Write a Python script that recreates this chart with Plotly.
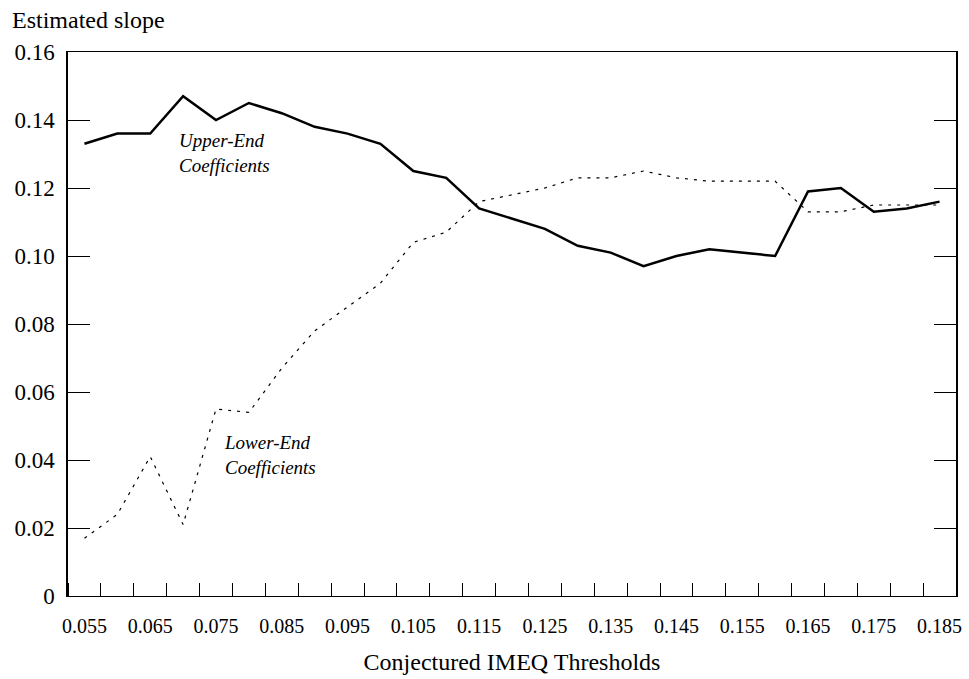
import plotly.graph_objects as go

thresholds = [0.055, 0.060, 0.065, 0.070, 0.075, 0.080, 0.085, 0.090, 0.095,
              0.100, 0.105, 0.110, 0.115, 0.120, 0.125, 0.130, 0.135, 0.140,
              0.145, 0.150, 0.155, 0.160, 0.165, 0.170, 0.175, 0.180, 0.185]

upper_end = [0.133, 0.136, 0.136, 0.147, 0.140, 0.145, 0.142, 0.138, 0.136,
             0.133, 0.125, 0.123, 0.114, 0.111, 0.108, 0.103, 0.101, 0.097,
             0.100, 0.102, 0.101, 0.100, 0.119, 0.120, 0.113, 0.114, 0.116]

lower_end = [0.017, 0.024, 0.041, 0.021, 0.055, 0.054, 0.067, 0.078, 0.085,
             0.092, 0.104, 0.107, 0.116, 0.118, 0.120, 0.123, 0.123, 0.125,
             0.123, 0.122, 0.122, 0.122, 0.113, 0.113, 0.115, 0.115, 0.115]

x_tick_vals = [0.055, 0.065, 0.075, 0.085, 0.095, 0.105, 0.115, 0.125,
               0.135, 0.145, 0.155, 0.165, 0.175, 0.185]
x_tick_text = ["0.055", "0.065", "0.075", "0.085", "0.095", "0.105", "0.115",
               "0.125", "0.135", "0.145", "0.155", "0.165", "0.175", "0.185"]
y_tick_vals = [0, 0.02, 0.04, 0.06, 0.08, 0.10, 0.12, 0.14, 0.16]
y_tick_text = ["0", "0.02", "0.04", "0.06", "0.08", "0.10", "0.12", "0.14", "0.16"]

SERIF = "Liberation Serif, Times New Roman, serif"

fig = go.Figure()
fig.add_trace(go.Scatter(x=thresholds, y=lower_end, mode="lines",
                         line=dict(color="black", width=1.2, dash="3px,6px"),
                         name="Lower-End Coefficients", showlegend=False))
fig.add_trace(go.Scatter(x=thresholds, y=upper_end, mode="lines",
                         line=dict(color="black", width=2.5),
                         name="Upper-End Coefficients", showlegend=False))

fig.update_layout(
    width=969, height=679,
    margin=dict(l=68, r=7, t=52, b=83),
    paper_bgcolor="white", plot_bgcolor="white",
    font=dict(family=SERIF, color="black"),
    xaxis=dict(
        range=[0.0525, 0.1875], showgrid=False, zeroline=False,
        showline=True, linecolor="black", linewidth=1, mirror=True,
        tickmode="array", tickvals=x_tick_vals, ticktext=x_tick_text,
        ticks="", tickfont=dict(family=SERIF, size=20, color="black"),
        ticklabelstandoff=12,
        minor=dict(tick0=0.0575, dtick=0.005, ticks="inside", ticklen=13,
                   tickwidth=1.3, tickcolor="black", showgrid=False),
        title=dict(text="Conjectured IMEQ Thresholds",
                   font=dict(family=SERIF, size=24, color="black"), standoff=17),
    ),
    yaxis=dict(
        range=[0, 0.16], showgrid=False, zeroline=False,
        showline=True, linecolor="black", linewidth=1.5, mirror="ticks",
        tickmode="array", tickvals=y_tick_vals, ticktext=y_tick_text,
        ticks="inside", ticklen=22, tickwidth=1.3, tickcolor="black",
        tickfont=dict(family=SERIF, size=23, color="black"),
        ticklabelstandoff=7,
    ),
    annotations=[
        dict(text="Estimated slope", xref="paper", yref="paper",
             x=-0.0649, y=1.0588, xanchor="left", yanchor="middle",
             showarrow=False, font=dict(family=SERIF, size=24, color="black")),
        dict(text="<i>Upper-End<br>Coefficients</i>", xref="x", yref="y",
             x=0.069, y=0.1303, xanchor="left", yanchor="middle", align="left",
             showarrow=False, font=dict(family=SERIF, size=19, color="black")),
        dict(text="<i>Lower-End<br>Coefficients</i>", xref="x", yref="y",
             x=0.0759, y=0.0415, xanchor="left", yanchor="middle", align="left",
             showarrow=False, font=dict(family=SERIF, size=19, color="black")),
    ],
)

fig.write_html("out.html", config={"displayModeBar": False},
               post_script="document.body.style.margin='0';")
